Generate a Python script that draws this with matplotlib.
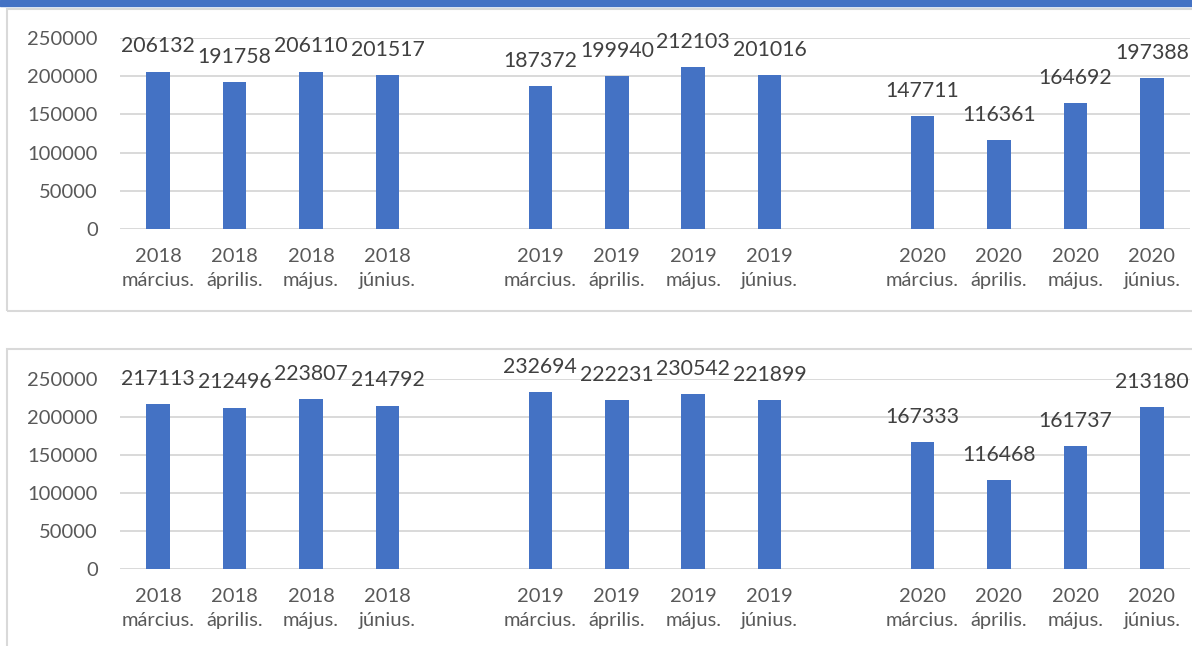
import numpy as np
import matplotlib
matplotlib.use("Agg")
import matplotlib.pyplot as plt
from matplotlib.patches import Rectangle

# data
YEARS = ["2018", "2019", "2020"]
MONTHS = ["március.", "április.", "május.", "június."]
TOP_VALUES = [206132, 191758, 206110, 201517,
              187372, 199940, 212103, 201016,
              147711, 116361, 164692, 197388]
BOTTOM_VALUES = [217113, 212496, 223807, 214792,
                 232694, 222231, 230542, 221899,
                 167333, 116468, 161737, 213180]
Y_TICKS = [0, 50000, 100000, 150000, 200000, 250000]

BAR_COLOR = "#4472C4"
GRID_COLOR = "#D9D9D9"
TICK_COLOR = "#595959"
LABEL_COLOR = "#404040"

W, H = 1192, 646
plt.rcParams["font.family"] = ["Lato", "DejaVu Sans"]


def px_rect(x0, y0, x1, y1):
    """pixel box (top-left origin) -> figure fraction [l, b, w, h]"""
    return [x0 / W, 1 - y1 / H, (x1 - x0) / W, (y1 - y0) / H]


def draw_panel(fig, rect, values):
    ax = fig.add_axes(rect)
    # one empty slot between the year groups
    pos, labels = [], []
    for gi, year in enumerate(YEARS):
        for mi, month in enumerate(MONTHS):
            pos.append(gi * 5 + mi)
            labels.append(f"{year}\n{month}")
    ax.bar(pos, values, width=0.31, color=BAR_COLOR, zorder=3)
    for x, v in zip(pos, values):
        ax.annotate(f"{v}", (x, v), xytext=(0, 11), textcoords="offset points",
                    ha="center", va="bottom", fontsize=15.3, color=LABEL_COLOR,
                    zorder=4)
    ax.set_xlim(-0.5, 13.5)
    ax.set_ylim(0, 250000)
    ax.set_yticks(Y_TICKS)
    ax.set_yticklabels([str(t) for t in Y_TICKS])
    ax.set_xticks(pos)
    ax.set_xticklabels(labels, linespacing=1.45)
    ax.tick_params(axis="both", length=0, colors=TICK_COLOR, labelsize=14.5)
    ax.tick_params(axis="y", pad=16)
    ax.tick_params(axis="x", pad=14)
    for s in ax.spines.values():
        s.set_visible(False)
    ax.grid(axis="y", color=GRID_COLOR, lw=1.4, zorder=0)
    ax.set_axisbelow(True)
    return ax


fig = plt.figure(figsize=(W / 100, H / 100), dpi=100)

# header strip and panel frames
fig.patches.append(Rectangle((0, 1 - 6 / H), 1, 6 / H, transform=fig.transFigure,
                             color=BAR_COLOR, zorder=0))
for y0, y1 in [(9, 311), (349, 660)]:
    l, b, w, h = px_rect(7, y0, 1200, y1)
    fig.patches.append(Rectangle((l, b), w, h, transform=fig.transFigure,
                                 fill=False, edgecolor=GRID_COLOR, lw=1.5,
                                 zorder=0))

draw_panel(fig, px_rect(120, 38, 1190, 229), TOP_VALUES)
draw_panel(fig, px_rect(120, 379, 1190, 569), BOTTOM_VALUES)

fig.savefig("out.png", dpi=100)
